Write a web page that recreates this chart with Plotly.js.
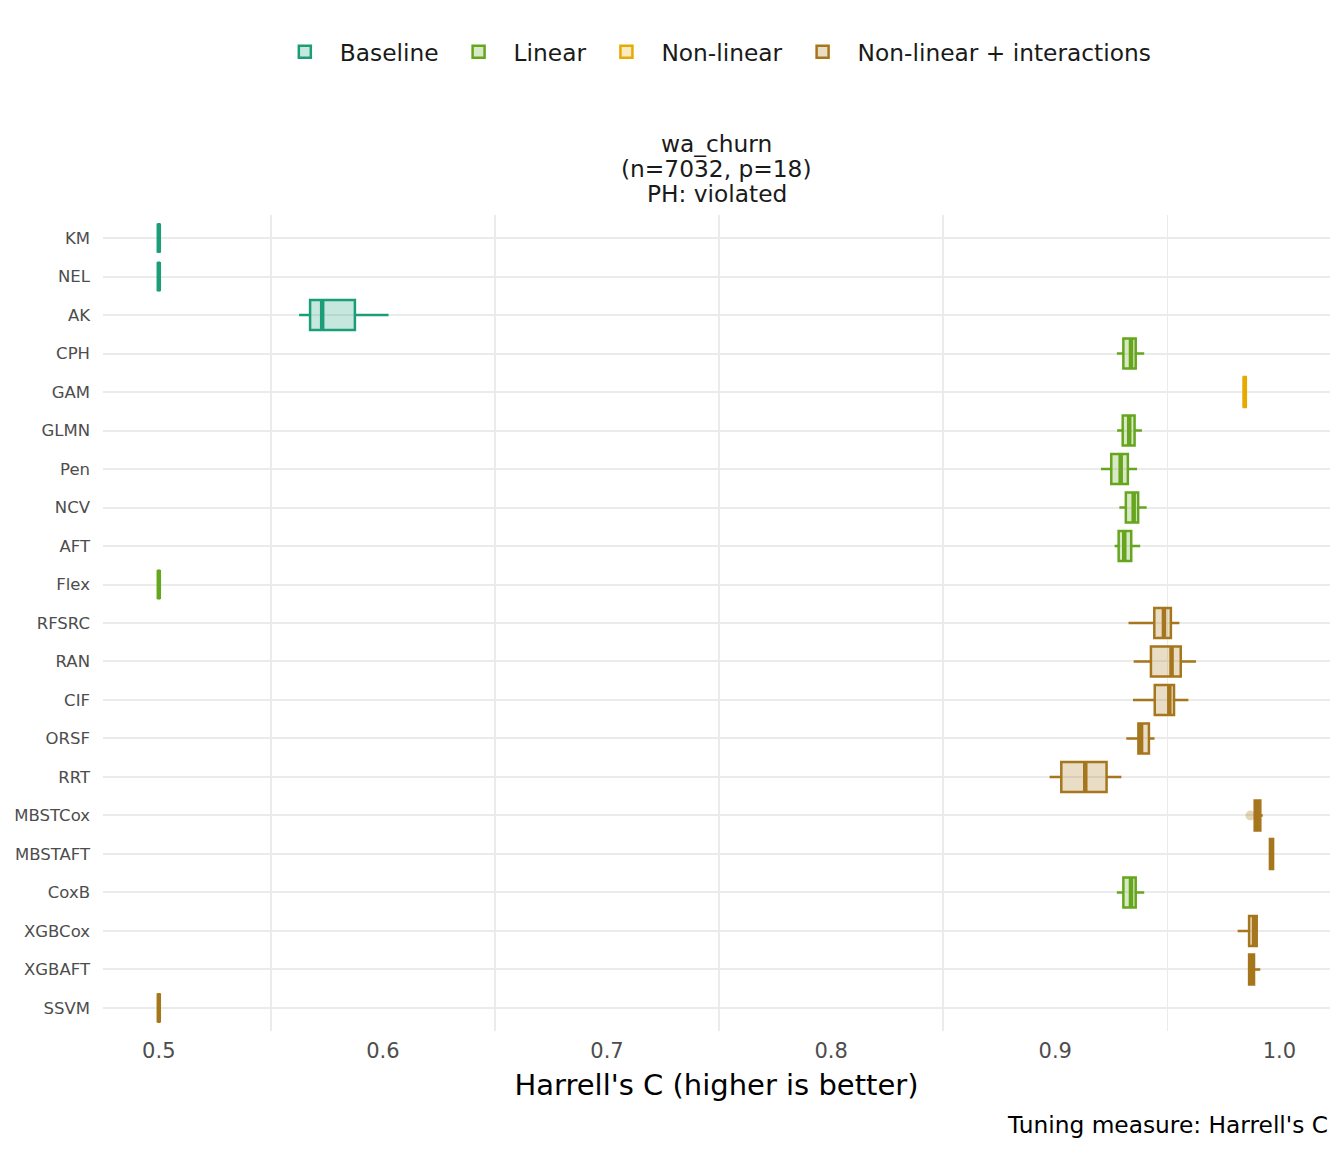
<!DOCTYPE html>
<html>
<head>
<meta charset="utf-8">
<script src="https://cdn.plot.ly/plotly-3.0.1.min.js"></script>
<style>body{margin:0;background:#fff}#chart{width:1344px;height:1152px}</style>
</head>
<body>
<div id="chart"></div>
<script>
// ---- data ----
const models = ["KM","NEL","AK","CPH","GAM","GLMN","Pen","NCV","AFT","Flex","RFSRC","RAN","CIF","ORSF","RRT","MBSTCox","MBSTAFT","CoxB","XGBCox","XGBAFT","SSVM"];
const modelGroup = ["Baseline","Baseline","Baseline","Linear","Non-linear","Linear","Linear","Linear","Linear","Linear",
  "Non-linear + interactions","Non-linear + interactions","Non-linear + interactions","Non-linear + interactions","Non-linear + interactions",
  "Non-linear + interactions","Non-linear + interactions","Linear","Non-linear + interactions","Non-linear + interactions","Non-linear + interactions"];
const lowerWhisker = [0.5,0.5,0.5626,0.9275,0.9838,0.9276,0.9204,0.9286,0.9265,0.5,0.9327,0.9350,0.9347,0.9317,0.8975,0.9885,0.9955,0.9275,0.9814,0.9862,0.5];
const q1Values     = [0.5,0.5,0.5675,0.9304,0.9841,0.9301,0.9250,0.9315,0.9283,0.5,0.9442,0.9427,0.9444,0.9371,0.9027,0.9890,0.9958,0.9304,0.9865,0.9865,0.5];
const medianValues = [0.5,0.5,0.5729,0.9338,0.9846,0.9330,0.9292,0.9350,0.9308,0.5,0.9485,0.9519,0.9509,0.9383,0.9134,0.9900,0.9965,0.9338,0.9887,0.9875,0.5];
const q3Values     = [0.5,0.5,0.5875,0.9359,0.9850,0.9354,0.9324,0.9370,0.9339,0.5,0.9516,0.9560,0.9530,0.9418,0.9229,0.9915,0.9972,0.9359,0.9899,0.9887,0.5];
const upperWhisker = [0.5,0.5,0.6025,0.9397,0.9853,0.9387,0.9365,0.9408,0.9379,0.5,0.9554,0.9628,0.9594,0.9443,0.9295,0.9926,0.9976,0.9397,0.9899,0.9915,0.5];
const outlierModels = ["MBSTCox"];
const outlierValues = [0.9871];
const groups = ["Baseline","Linear","Non-linear","Non-linear + interactions"];
const groupColors = ["#1b9e77","#66a61e","#e6ab02","#a6761d"];
const groupFills = ["rgba(27,158,119,0.25)","rgba(102,166,30,0.25)","rgba(230,171,2,0.25)","rgba(166,118,29,0.25)"];
const xTickVals = [0.5,0.6,0.7,0.8,0.9,1.0];
const xMinorVals = [0.55,0.65,0.75,0.85,0.95];
const titleLines = ["wa_churn","(n=7032, p=18)","PH: violated"];
const captionText = "Tuning measure: Harrell's C";

// ---- traces ----
const traces = [];
const medianTraces = [];
groups.forEach((g, gi) => {
  const idx = models.map((m, i) => i).filter(i => modelGroup[i] === g);
  traces.push({
    type: "box", orientation: "h", name: g,
    y: idx,
    q1: idx.map(i => q1Values[i]),
    median: idx.map(i => medianValues[i]),
    q3: idx.map(i => q3Values[i]),
    lowerfence: idx.map(i => lowerWhisker[i]),
    upperfence: idx.map(i => upperWhisker[i]),
    width: 0.78, whiskerwidth: 0, boxpoints: false,
    line: {color: groupColors[gi], width: 2.5},
    fillcolor: groupFills[gi],
    hoverinfo: "skip"
  });
  const mx = [], my = [];
  idx.forEach(i => { mx.push(medianValues[i], medianValues[i], null); my.push(i - 0.38, i + 0.38, null); });
  medianTraces.push({
    type: "scatter", mode: "lines", x: mx, y: my, showlegend: false,
    line: {color: groupColors[gi], width: 4.5}, hoverinfo: "skip"
  });
});
const outlierTrace = {
  type: "scatter", mode: "markers", showlegend: false,
  x: outlierValues, y: outlierModels.map(m => models.indexOf(m)),
  marker: {color: "rgba(166,118,29,0.3)", size: 10, line: {width: 0}},
  hoverinfo: "skip"
};

const plotTop = 215, plotBottom = 1031, plotH = plotBottom - plotTop;
const titleY = [143, 168, 193];
const annotations = titleLines.map((t, k) => ({
  text: t, xref: "paper", x: 0.5, xanchor: "center",
  yref: "paper", y: (plotBottom - titleY[k]) / plotH, yanchor: "middle", showarrow: false,
  font: {size: 23.3, color: "#1a1a1a"}
}));
annotations.push({text: captionText, xref: "paper", x: 1, xanchor: "right",
  yref: "paper", y: (plotBottom - 1124) / plotH, yanchor: "middle", showarrow: false,
  font: {size: 23.3, color: "#000"}});

const layout = {
  width: 1344, height: 1152,
  paper_bgcolor: "#fff", plot_bgcolor: "#fff",
  font: {family: "DejaVu Sans, sans-serif", color: "#1a1a1a"},
  margin: {l: 103, r: 14, t: plotTop, b: 1152 - plotBottom},
  boxmode: "overlay",
  showlegend: true,
  legend: {orientation: "h", x: 0.497, xanchor: "center", xref: "paper",
           y: 1 - 52/1152, yref: "container", yanchor: "middle", itemwidth: 60,
           font: {size: 23.3, color: "#1a1a1a"}, itemclick: false},
  xaxis: {range: [0.4751, 1.0226], tickmode: "array", tickvals: xTickVals, tickformat: ".1f",
          tickfont: {size: 21, color: "#4d4d4d"}, showgrid: false, zeroline: false, showline: false,
          ticks: "", ticklabelstandoff: 5,
          minor: {tickmode: "array", tickvals: xMinorVals, showgrid: true, gridcolor: "#ebebeb", gridwidth: 1.5, ticks: ""},
          title: {text: "Harrell's C (higher is better)", font: {size: 29, color: "#000"}, standoff: 12}},
  yaxis: {range: [20.6, -0.6], tickmode: "array", tickvals: models.map((m, i) => i), ticktext: models,
          tickfont: {size: 16.5, color: "#4d4d4d"}, showgrid: true, gridcolor: "#ebebeb", gridwidth: 2,
          zeroline: false, showline: false, ticks: "", ticklabelstandoff: 12},
  annotations: annotations
};

Plotly.newPlot("chart", traces.concat(medianTraces, [outlierTrace]), layout, {displayModeBar: false, staticPlot: true});
</script>
</body>
</html>
